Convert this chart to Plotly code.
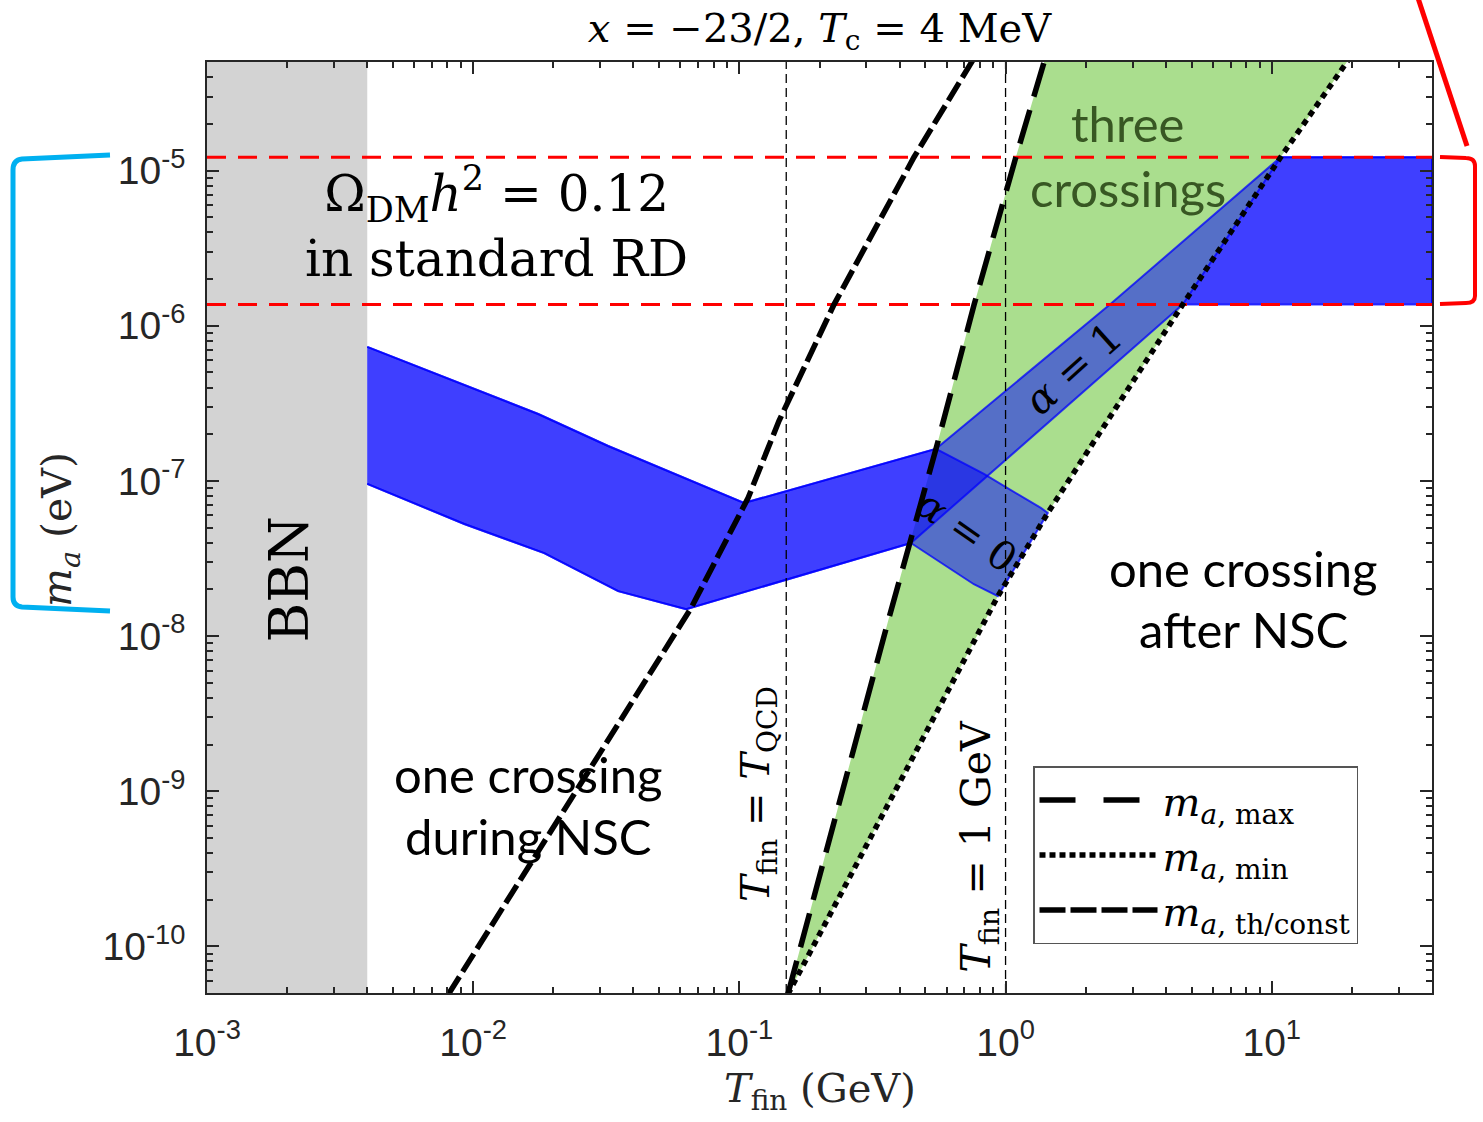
import numpy as np
import plotly.graph_objects as go

# ---------------------------------------------------------------- data
# axis limits (GeV, eV)
T_LIM = (1e-3, 40.0)
M_LIM = (10 ** -10.3, 10 ** -4.3)

# reference temperatures (GeV)
T_BBN = 4e-3        # T_c = 4 MeV
T_QCD = 0.15
T_ONE_GEV = 1.0

# Omega_DM h^2 = 0.12 window in standard RD (eV)
M_RD_LOW = 1.37e-6
M_RD_HIGH = 1.22e-5

# m_a,max
T_max = [0.152, 0.362, 0.548, 0.762, 1.093, 1.40]
m_max = [4.9e-11, 1.25e-8, 1.61e-7, 1.37e-6, 1.22e-5, 5.1e-5]

# m_a,min
T_min = [0.152, 0.936, 1.441, 4.63, 10.8, 19.3]
m_min = [4.9e-11, 1.81e-8, 6.22e-8, 1.37e-6, 1.22e-5, 5.1e-5]

# m_a,th/const
T_th = [0.00806, 0.0659, 0.1078, 0.1409, 0.2267, 0.4528, 0.760]
m_th = [4.9e-11, 1.52e-8, 7.76e-8, 2.44e-7, 1.37e-6, 1.22e-5, 5.28e-5]

# DM band with one crossing during NSC (common to alpha = 0 and alpha = 1)
T_nsc_up = [0.004, 0.01755, 0.03214, 0.1041, 0.5476]
m_nsc_up = [7.32e-7, 2.70e-7, 1.68e-7, 7.21e-8, 1.61e-7]
T_nsc_lo = [0.004, 0.00926, 0.01849, 0.03505, 0.0631, 0.441]
m_nsc_lo = [9.57e-8, 5.28e-8, 3.43e-8, 1.95e-8, 1.49e-8, 3.98e-8]

# alpha = 0 branch inside the three-crossing region
T_a0_up = [0.829, 1.357, 1.441]
m_a0_up = [1.11e-7, 6.70e-8, 6.22e-8]
T_a0_lo = [0.760, 0.936]
m_a0_lo = [2.16e-8, 1.81e-8]

# alpha = 1 branch inside the three-crossing region
T_a1_up = [2.485, 10.8]
m_a1_up = [1.387e-6, 1.22e-5]
T_a1_lo = [4.63]
m_a1_lo = [1.37e-6]

# tick labels
x_tick_vals = [1e-3, 1e-2, 1e-1, 1e0, 1e1]
x_tick_text = ["10<sup>-3</sup>", "10<sup>-2</sup>", "10<sup>-1</sup>",
               "10<sup>0</sup>", "10<sup>1</sup>"]
y_tick_vals = [1e-10, 1e-9, 1e-8, 1e-7, 1e-6, 1e-5]
y_tick_text = ["10<sup>-10</sup>", "10<sup>-9</sup>", "10<sup>-8</sup>",
               "10<sup>-7</sup>", "10<sup>-6</sup>", "10<sup>-5</sup>"]

# ---------------------------------------------------------------- style
W, H = 1483, 1122
ML, MR, MT, MB = 207, 51, 62, 129
SERIF = "DejaVu Serif"
SANS = "Liberation Sans"
NOTE = "Lato"
AXIS_COL = "#262626"
GREEN = "rgb(170,222,142)"
BAND_FILL = "rgba(0,0,255,0.5)"
BAND_EDGE = "rgba(0,0,255,0.75)"
GRAY = "rgb(211,211,211)"
LW = 5.5
DASH_MAX, DASH_MIN, DASH_TH = "35px,14px", "6px,5px", "21px,6px"


def minor_vals(lo_exp, hi_exp):
    return [k * 10.0 ** e for e in range(lo_exp, hi_exp) for k in range(2, 10)]


def paper(px, py):
    """figure pixel -> paper coordinates"""
    return (px - ML) / (W - ML - MR), (H - MB - py) / (H - MT - MB)


fig = go.Figure()

# BBN excluded strip
fig.add_trace(go.Scatter(
    x=[T_LIM[0], T_BBN, T_BBN, T_LIM[0]],
    y=[M_LIM[0], M_LIM[0], M_LIM[1], M_LIM[1]],
    fill="toself", fillcolor=GRAY, line=dict(width=0),
    mode="lines", showlegend=False, hoverinfo="skip"))

# three-crossing region between m_a,max and m_a,min
fig.add_trace(go.Scatter(
    x=T_max + T_min[::-1], y=m_max + m_min[::-1],
    fill="toself", fillcolor=GREEN, line=dict(width=0),
    mode="lines", showlegend=False, hoverinfo="skip"))

# alpha = 0 band
fig.add_trace(go.Scatter(
    x=T_nsc_up + T_a0_up + T_a0_lo[::-1] + T_nsc_lo[::-1],
    y=m_nsc_up + m_a0_up + m_a0_lo[::-1] + m_nsc_lo[::-1],
    fill="toself", fillcolor=BAND_FILL, line=dict(color=BAND_EDGE, width=2),
    mode="lines", showlegend=False, hoverinfo="skip"))

# alpha = 0 band after NSC (standard RD window)
fig.add_trace(go.Scatter(
    x=[T_min[3], T_min[4], T_LIM[1], T_LIM[1]],
    y=[M_RD_LOW, M_RD_HIGH, M_RD_HIGH, M_RD_LOW],
    fill="toself", fillcolor=BAND_FILL, line=dict(color=BAND_EDGE, width=2),
    mode="lines", showlegend=False, hoverinfo="skip"))

# alpha = 1 band (continues into the standard RD window)
fig.add_trace(go.Scatter(
    x=T_nsc_up + T_a1_up + [T_LIM[1], T_LIM[1]] + T_a1_lo + T_nsc_lo[::-1],
    y=m_nsc_up + m_a1_up + [M_RD_HIGH, M_RD_LOW] + m_a1_lo + m_nsc_lo[::-1],
    fill="toself", fillcolor=BAND_FILL, line=dict(color=BAND_EDGE, width=2),
    mode="lines", showlegend=False, hoverinfo="skip"))

# T_fin = T_QCD and T_fin = 1 GeV
for t in (T_QCD, T_ONE_GEV):
    fig.add_trace(go.Scatter(
        x=[t, t], y=list(M_LIM), mode="lines",
        line=dict(color="black", width=1.3, dash="9px,5px"),
        showlegend=False, hoverinfo="skip"))

# Omega h^2 = 0.12 window
for m in (M_RD_HIGH, M_RD_LOW):
    fig.add_trace(go.Scatter(
        x=list(T_LIM), y=[m, m], mode="lines",
        line=dict(color="rgb(255,0,0)", width=3, dash="19px,12px"),
        showlegend=False, hoverinfo="skip"))

# boundary curves
for T, m, dash in ((T_max, m_max, DASH_MAX), (T_min, m_min, DASH_MIN), (T_th, m_th, DASH_TH)):
    fig.add_trace(go.Scatter(x=T, y=m, mode="lines", showlegend=False, hoverinfo="skip",
                             line=dict(color="black", width=LW, dash=dash)))

# legend keys for the boundary curves
for key, name, dash in (("max", "<i>m</i><sub><i>a</i>, max</sub>", "36px,28px"),
                        ("min", "<i>m</i><sub><i>a</i>, min</sub>", "6px,4px"),
                        ("th", "<i>m</i><sub><i>a</i>, th/const</sub>", "26px,5px")):
    fig.add_trace(go.Scatter(x=[None], y=[None], mode="lines", legendgroup=key, name=name,
                             line=dict(color="black", width=LW, dash=dash)))

lg = np.log10


def note(text, T, m, size, font=SERIF, color="black", angle=0):
    fig.add_annotation(x=lg(T), y=lg(m), xref="x", yref="y", text=text,
                       showarrow=False, textangle=angle,
                       font=dict(family=font, size=size, color=color),
                       xanchor="center", yanchor="middle")


note("Ω<sub>DM</sub><i>h</i><sup>2</sup> = 0.12<br>in standard RD", 0.0122, 4.6e-6, 50)
note("BBN", 0.00204, 2.33e-8, 54, angle=-90)
note("<i>T</i><sub>fin</sub> = <i>T</i><sub>QCD</sub>", 0.1175, 9.6e-10, 40, angle=-90)
note("<i>T</i><sub>fin</sub> = 1 GeV", 0.795, 4.4e-10, 41, angle=-90)
note("<i>α</i> = 1", 1.79, 5.3e-7, 41, angle=-42)
note("<i>α</i> = 0", 0.716, 4.75e-8, 40, angle=35)
note("three", 2.88, 2.04e-5, 49, font=NOTE, color="#385723")
note("crossings", 2.88, 7.76e-6, 49, font=NOTE, color="#385723")
note("one crossing", 0.0161, 1.29e-9, 49, font=NOTE)
note("during NSC", 0.0161, 5.13e-10, 49, font=NOTE)
note("one crossing", 7.85, 2.75e-8, 49, font=NOTE)
note("after NSC", 7.85, 1.11e-8, 49, font=NOTE)

# axis titles
fig.add_annotation(x=0.5, y=paper(0, 1091)[1], xref="paper", yref="paper",
                   text="<i>T</i><sub>fin</sub> (GeV)", showarrow=False,
                   font=dict(family=SERIF, size=40, color=AXIS_COL),
                   xanchor="center", yanchor="middle")
fig.add_annotation(x=paper(60, 0)[0], y=paper(0, 530)[1], xref="paper", yref="paper",
                   text="<i>m<sub>a</sub></i> (eV)", showarrow=False, textangle=-90,
                   font=dict(family=SERIF, size=41, color=AXIS_COL),
                   xanchor="center", yanchor="middle")


# brackets around the relic-abundance mass window
def bracket_path(pts, curve):
    p = [paper(*q) for q in pts]
    c = [paper(*q) for q in curve]
    return (f"M{p[0][0]},{p[0][1]} L{p[1][0]},{p[1][1]} "
            f"Q{c[0][0]},{c[0][1]} {p[2][0]},{p[2][1]} "
            f"L{p[3][0]},{p[3][1]} Q{c[1][0]},{c[1][1]} {p[4][0]},{p[4][1]} "
            f"L{p[5][0]},{p[5][1]}")


fig.add_shape(type="path", xref="paper", yref="paper",
              path=bracket_path([(110, 155), (22, 159), (13, 170), (13, 597), (22, 607), (110, 611)],
                                [(13, 160), (13, 606)]),
              line=dict(color="rgb(0,176,240)", width=5))
fig.add_shape(type="path", xref="paper", yref="paper",
              path=bracket_path([(1440, 157), (1466, 158), (1475, 166), (1475, 296), (1466, 303), (1440, 304)],
                                [(1475, 158), (1475, 303)]),
              line=dict(color="rgb(255,0,0)", width=4))
x0, y0 = paper(1417, -5)
x1, y1 = paper(1467, 146)
fig.add_shape(type="line", xref="paper", yref="paper", x0=x0, y0=y0, x1=x1, y1=y1,
              line=dict(color="rgb(255,0,0)", width=5))

axis_common = dict(
    type="log", showline=True, linecolor=AXIS_COL, linewidth=1.5, mirror="allticks",
    ticks="inside", ticklen=12, tickwidth=1.5, tickcolor=AXIS_COL,
    showgrid=False, zeroline=False,
    tickfont=dict(family=SANS, size=39, color=AXIS_COL),
)
fig.update_xaxes(range=[lg(T_LIM[0]), lg(T_LIM[1])], tickmode="array",
                 tickvals=x_tick_vals, ticktext=x_tick_text, ticklabelstandoff=14,
                 minor=dict(tickmode="array", tickvals=minor_vals(-3, 2), ticks="inside",
                            ticklen=6, tickwidth=1.5, tickcolor=AXIS_COL, showgrid=False),
                 **axis_common)
fig.update_yaxes(range=[lg(M_LIM[0]), lg(M_LIM[1])], tickmode="array",
                 tickvals=y_tick_vals, ticktext=y_tick_text, ticklabelstandoff=12,
                 minor=dict(tickmode="array", tickvals=minor_vals(-11, -4), ticks="inside",
                            ticklen=6, tickwidth=1.5, tickcolor=AXIS_COL, showgrid=False),
                 **axis_common)

fig.update_layout(
    width=W, height=H, autosize=False,
    margin=dict(l=ML, r=MR, t=MT, b=MB),
    paper_bgcolor="white", plot_bgcolor="white",
    title=dict(text="<i>x</i> = −23/2, <i>T</i><sub>c</sub> = 4 MeV",
               x=0.5, xref="paper", xanchor="center",
               y=1 - 28 / H, yref="container", yanchor="middle",
               font=dict(family=SERIF, size=40, color="black")),
    legend=dict(x=paper(1033, 0)[0], y=paper(0, 766)[1], xanchor="left", yanchor="top",
                bgcolor="white", bordercolor="#555555", borderwidth=1.5,
                font=dict(family=SERIF, size=40, color="black"),
                itemwidth=118, tracegroupgap=10, traceorder="normal"),
    showlegend=True,
)

fig.write_html("out.html")
